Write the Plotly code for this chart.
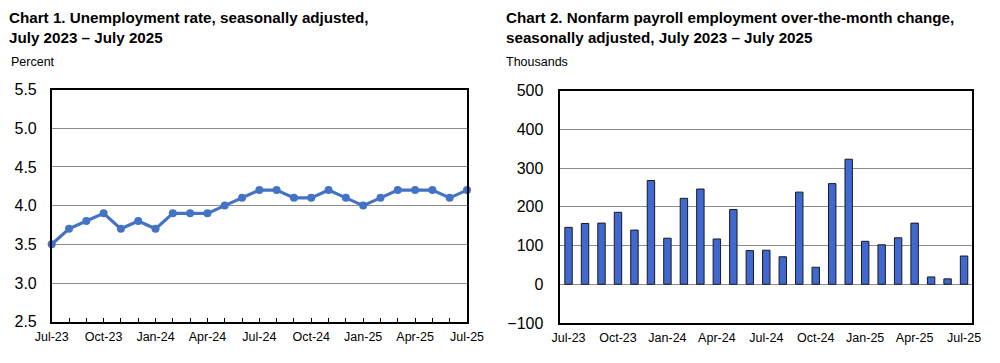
import plotly.graph_objects as go

months = ["Jul-23", "Aug-23", "Sep-23", "Oct-23", "Nov-23", "Dec-23",
          "Jan-24", "Feb-24", "Mar-24", "Apr-24", "May-24", "Jun-24",
          "Jul-24", "Aug-24", "Sep-24", "Oct-24", "Nov-24", "Dec-24",
          "Jan-25", "Feb-25", "Mar-25", "Apr-25", "May-25", "Jun-25", "Jul-25"]
unemployment_rate = [3.5, 3.7, 3.8, 3.9, 3.7, 3.8, 3.7, 3.9, 3.9, 3.9, 4.0, 4.1,
                     4.2, 4.2, 4.1, 4.1, 4.2, 4.1, 4.0, 4.1, 4.2, 4.2, 4.2, 4.1, 4.2]
payroll_change = [147, 157, 158, 186, 140, 268, 119, 222, 246, 117, 193, 87,
                  88, 71, 238, 44, 260, 323, 111, 102, 120, 158, 19, 14, 73]
tick_labels = months[::3]
y1_ticks = [2.5, 3.0, 3.5, 4.0, 4.5, 5.0, 5.5]
y2_ticks = [-100, 0, 100, 200, 300, 400, 500]

FONT = "Arial, Liberation Sans, sans-serif"
LINE_BLUE = "#4472C4"
BAR_BLUE = "#3F68D0"
GRID = "#8C8C8C"

idx = list(range(len(months)))
tick_idx = idx[::3]

# page has an 8px body margin; figure is sized/positioned to compensate
OFF = 8.0
W = 1000.0 - OFF
H = 363.0 - OFF


def px(x):
    return (x - OFF) / W


def py(y):
    return 1 - (y - OFF) / H


fig = go.Figure()
fig.add_trace(go.Scatter(
    x=idx, y=unemployment_rate, mode="lines+markers",
    line=dict(color=LINE_BLUE, width=3.2),
    marker=dict(color=LINE_BLUE, size=8),
    xaxis="x", yaxis="y", showlegend=False, cliponaxis=False))
fig.add_trace(go.Bar(
    x=months, y=payroll_change, width=0.45,
    marker=dict(color=BAR_BLUE, line=dict(color="#1a1a1a", width=1)),
    xaxis="x2", yaxis="y2", showlegend=False))

fig.update_layout(
    template="none",
    width=int(W), height=int(H),
    margin=dict(l=0, r=0, t=0, b=0, autoexpand=False),
    paper_bgcolor="white", plot_bgcolor="white",
    font=dict(family=FONT, color="black"),
    xaxis=dict(domain=[px(51.7), px(467.0)], range=[0, 24], automargin=False,
               tickmode="array", tickvals=tick_idx, ticktext=tick_labels,
               ticks="inside", ticklen=4, tickcolor="black", tickwidth=1,
               minor=dict(dtick=1, tick0=0, ticks="inside", ticklen=4,
                          tickcolor="black", tickwidth=1, showgrid=False),
               showgrid=False, zeroline=False,
               showline=True, linecolor="black", linewidth=1.5, mirror=True,
               ticklabelstandoff=3,
               tickfont=dict(size=12.5, family=FONT), anchor="y"),
    yaxis=dict(domain=[py(321.7), py(89.5)], range=[2.5, 5.5],
               automargin=False,
               tickmode="array", tickvals=y1_ticks,
               ticktext=[f"{v:.1f}" for v in y1_ticks],
               ticks="", showgrid=True, gridcolor=GRID, gridwidth=1.3,
               zeroline=False, showline=True, linecolor="black",
               linewidth=1.5, mirror=True, ticklabelstandoff=10,
               tickfont=dict(size=16, family=FONT), anchor="x"),
    xaxis2=dict(domain=[px(560.3), px(972.3)], range=[-0.5, 24.5],
                automargin=False,
                type="category", tickmode="array", tickvals=tick_labels,
                ticktext=tick_labels, ticks="", showgrid=False, zeroline=False,
                showline=True, linecolor="black", linewidth=1.5, mirror=True,
                ticklabelstandoff=2,
                tickfont=dict(size=12.5, family=FONT), anchor="y2"),
    yaxis2=dict(domain=[py(323.0), py(90.7)], range=[-100, 500],
                automargin=False,
                tickmode="array", tickvals=y2_ticks,
                ticks="", showgrid=True, gridcolor=GRID, gridwidth=1.3,
                zeroline=False, showline=True, linecolor="black",
                linewidth=1.5, mirror=True, ticklabelstandoff=12,
                tickfont=dict(size=16, family=FONT), anchor="x2"),
    bargap=0.55,
)

annotations = [
    dict(text="<b>Chart 1. Unemployment rate, seasonally adjusted,</b><br><b>July 2023 \u2013 July 2025</b>",
         x=px(7), y=py(7), xanchor="left", yanchor="top", align="left",
         font=dict(size=15.2, family=FONT)),
    dict(text="Percent", x=px(9), y=py(62), xanchor="left", yanchor="middle",
         font=dict(size=12.5, family=FONT)),
    dict(text="<b>Chart 2. Nonfarm payroll employment over-the-month change,</b><br><b>seasonally adjusted, July 2023 \u2013 July 2025</b>",
         x=px(504), y=py(7), xanchor="left", yanchor="top", align="left",
         font=dict(size=15.2, family=FONT)),
    dict(text="Thousands", x=px(504), y=py(62), xanchor="left", yanchor="middle",
         font=dict(size=12.5, family=FONT)),
]
for a in annotations:
    a.update(xref="paper", yref="paper", showarrow=False)
fig.update_layout(annotations=annotations)

fig.write_html("out.html")
